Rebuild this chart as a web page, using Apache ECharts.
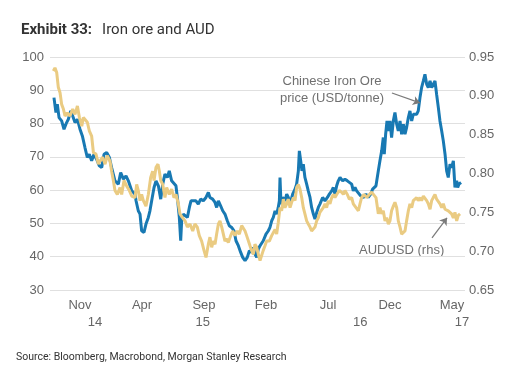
<!DOCTYPE html>
<html>
<head>
<meta charset="utf-8">
<script src="https://cdn.jsdelivr.net/npm/echarts@6/dist/echarts.min.js"></script>
<style>
  html, body { margin: 0; padding: 0; background: #fff; }
  .chart { width: 509px; height: 375px; }
</style>
</head>
<body>
<div class="chart"></div>
<script>
// x values are months counted from Jan 2014 (10 = Nov 2014)
var monthTicks = [10, 15, 20, 25, 30, 35, 40];
var monthLabels = ["Nov", "Apr", "Sep", "Feb", "Jul", "Dec", "May"];
var yearTicks = [11.2, 19.9, 32.6, 40.8];
var yearLabels = ["14", "15", "16", "17"];

// Chinese iron ore price, USD/tonne (lhs)
var ironOre = [
  [7.90,87.8],[8.06,83.3],[8.17,85.8],[8.31,81.8],[8.52,80.8],[8.71,78.3],[8.92,80.3],[9.06,81.3],[9.25,83.8],[9.41,82.3],
  [9.60,80.3],[9.79,81.3],[10.00,78.3],[10.19,76.3],[10.40,72.8],[10.59,69.8],[10.75,70.8],[10.94,68.8],[11.13,70.8],[11.34,69.3],
  [11.56,67.3],[11.75,66.8],[11.94,70.8],[12.15,71.3],[12.37,69.8],[12.55,66.8],[12.82,62.8],[13.09,61.8],[13.28,65.3],[13.50,63.3],
  [13.71,64.3],[13.90,62.8],[14.17,59.8],[14.44,58.8],[14.52,56.8],[14.70,53.8],[14.84,52.8],[14.97,47.8],[15.16,47.3],[15.32,49.8],
  [15.51,51.8],[15.64,53.8],[15.78,56.8],[15.97,60.8],[16.13,62.8],[16.32,61.3],[16.51,57.3],[16.67,61.8],[16.85,64.8],[17.04,63.8],
  [17.20,65.8],[17.39,62.8],[17.53,62.3],[17.74,61.3],[17.88,56.8],[18.01,51.8],[18.12,44.8],[18.20,50.8],[18.33,52.8],[18.47,52.3],
  [18.66,51.8],[18.82,54.8],[18.95,56.8],[19.14,56.8],[19.35,56.8],[19.54,55.8],[19.73,57.3],[19.95,56.8],[20.16,57.8],[20.35,59.3],
  [20.48,57.8],[20.70,57.3],[20.89,56.3],[21.02,54.8],[21.16,56.8],[21.34,55.3],[21.51,53.8],[21.69,52.8],[21.88,50.8],[22.04,49.3],
  [22.23,48.8],[22.42,47.8],[22.58,44.8],[22.77,43.3],[22.96,41.3],[23.12,39.8],[23.31,38.8],[23.49,39.8],[23.66,41.8],[23.84,41.3],
  [23.98,42.8],[24.11,40.8],[24.25,39.8],[24.38,42.3],[24.52,43.3],[24.65,42.8],[24.78,44.8],[25.00,46.8],[25.19,47.8],[25.32,48.8],
  [25.46,50.8],[25.59,51.8],[25.73,53.8],[25.86,52.8],[25.99,54.8],[26.08,56.8],[26.13,63.8],[26.21,55.8],[26.34,57.8],[26.53,56.8],
  [26.67,58.8],[26.80,57.8],[26.94,55.8],[27.15,58.8],[27.34,60.3],[27.47,61.8],[27.61,65.8],[27.69,71.8],[27.80,68.8],[27.90,65.8],
  [28.01,67.8],[28.14,63.8],[28.28,61.8],[28.41,59.8],[28.55,57.8],[28.68,54.8],[28.82,52.8],[28.95,51.3],[29.09,53.3],[29.22,54.8],
  [29.35,55.8],[29.57,57.8],[29.76,56.8],[29.95,57.8],[30.11,58.8],[30.30,59.8],[30.43,60.8],[30.56,58.8],[30.70,61.3],[30.83,62.8],
  [30.97,63.8],[31.18,62.8],[31.37,63.3],[31.56,62.8],[31.72,63.3],[31.91,61.8],[32.04,59.8],[32.18,60.8],[32.31,59.8],[32.45,59.3],
  [32.63,58.3],[32.85,57.8],[33.06,58.8],[33.25,57.8],[33.44,58.8],[33.60,60.3],[33.87,61.3],[34.06,65.8],[34.19,68.8],[34.33,71.8],
  [34.46,75.8],[34.54,70.8],[34.65,76.8],[34.76,80.8],[34.87,77.8],[35.00,80.8],[35.13,75.8],[35.27,80.8],[35.40,83.3],[35.54,79.8],
  [35.67,77.8],[35.81,80.8],[35.94,76.8],[36.08,79.8],[36.21,76.8],[36.34,78.8],[36.48,81.8],[36.61,83.8],[36.75,80.8],[36.88,82.8],
  [37.02,83.3],[37.15,82.8],[37.28,83.8],[37.42,87.8],[37.55,90.8],[37.69,92.8],[37.82,94.8],[37.96,91.8],[38.09,90.8],[38.23,92.8],
  [38.36,90.8],[38.49,91.8],[38.63,92.8],[38.76,88.8],[38.90,84.8],[39.03,80.8],[39.17,77.8],[39.30,74.8],[39.44,70.8],[39.57,65.8],
  [39.70,63.8],[39.84,67.8],[39.97,66.8],[40.11,68.8],[40.24,60.8],[40.38,62.8],[40.46,60.8],[40.56,61.8],[40.73,62.3]
];

// AUDUSD (rhs)
var audusd = [
  [7.85,0.932],[7.98,0.936],[8.12,0.930],[8.25,0.911],[8.39,0.904],[8.52,0.889],[8.66,0.883],[8.79,0.874],[8.98,0.878],[9.19,0.874],
  [9.41,0.883],[9.60,0.876],[9.79,0.887],[9.95,0.872],[10.14,0.861],[10.27,0.872],[10.40,0.874],[10.59,0.866],[10.75,0.855],[10.94,0.848],
  [11.08,0.827],[11.29,0.825],[11.48,0.812],[11.61,0.816],[11.83,0.821],[12.02,0.812],[12.20,0.823],[12.42,0.816],[12.55,0.803],[12.69,0.791],
  [12.82,0.778],[13.01,0.773],[13.23,0.782],[13.36,0.773],[13.55,0.791],[13.76,0.784],[13.98,0.778],[14.17,0.771],[14.30,0.769],[14.44,0.769],
  [14.57,0.786],[14.70,0.778],[14.84,0.765],[14.97,0.773],[15.11,0.765],[15.32,0.758],[15.51,0.773],[15.70,0.795],[15.86,0.803],[15.97,0.791],
  [16.13,0.808],[16.29,0.812],[16.40,0.803],[16.51,0.791],[16.67,0.786],[16.85,0.769],[16.99,0.782],[17.20,0.773],[17.39,0.780],[17.58,0.769],
  [17.74,0.773],[17.93,0.761],[18.06,0.748],[18.28,0.743],[18.47,0.739],[18.66,0.731],[18.87,0.735],[19.09,0.726],[19.27,0.735],[19.46,0.731],
  [19.62,0.720],[19.81,0.713],[20.00,0.701],[20.16,0.692],[20.35,0.709],[20.48,0.718],[20.62,0.705],[20.75,0.713],[20.89,0.709],[21.02,0.722],
  [21.16,0.735],[21.29,0.739],[21.43,0.731],[21.56,0.722],[21.69,0.713],[21.83,0.716],[21.96,0.711],[22.15,0.720],[22.31,0.726],[22.50,0.720],
  [22.69,0.726],[22.85,0.722],[23.04,0.733],[23.17,0.735],[23.31,0.726],[23.44,0.720],[23.58,0.722],[23.71,0.707],[23.84,0.701],[23.98,0.696],
  [24.11,0.709],[24.25,0.705],[24.38,0.696],[24.52,0.688],[24.65,0.690],[24.78,0.701],[24.92,0.707],[25.05,0.713],[25.27,0.713],[25.46,0.720],
  [25.59,0.718],[25.73,0.728],[25.86,0.722],[25.99,0.737],[26.13,0.756],[26.26,0.752],[26.40,0.767],[26.53,0.756],[26.67,0.761],[26.80,0.767],
  [26.94,0.756],[27.07,0.763],[27.21,0.769],[27.34,0.765],[27.47,0.782],[27.61,0.786],[27.74,0.780],[27.88,0.769],[28.01,0.756],[28.14,0.748],
  [28.28,0.739],[28.41,0.735],[28.55,0.731],[28.68,0.726],[28.82,0.724],[28.95,0.731],[29.09,0.739],[29.22,0.743],[29.35,0.750],[29.49,0.748],
  [29.62,0.756],[29.76,0.761],[29.89,0.756],[30.03,0.765],[30.16,0.761],[30.30,0.769],[30.43,0.773],[30.56,0.769],[30.70,0.773],[30.91,0.778],
  [31.10,0.776],[31.24,0.773],[31.37,0.778],[31.56,0.773],[31.72,0.767],[31.91,0.769],[32.04,0.761],[32.26,0.756],[32.45,0.752],[32.58,0.761],
  [32.71,0.769],[32.90,0.773],[33.12,0.769],[33.33,0.773],[33.52,0.776],[33.66,0.778],[33.87,0.769],[34.06,0.748],[34.19,0.756],[34.33,0.748],
  [34.46,0.752],[34.60,0.739],[34.73,0.743],[34.87,0.735],[35.00,0.739],[35.13,0.752],[35.27,0.758],[35.40,0.763],[35.54,0.756],[35.67,0.739],
  [35.81,0.731],[35.94,0.722],[36.08,0.720],[36.21,0.726],[36.34,0.739],[36.48,0.752],[36.61,0.761],[36.75,0.756],[36.88,0.765],[37.02,0.767],
  [37.15,0.769],[37.28,0.765],[37.42,0.769],[37.55,0.765],[37.69,0.771],[37.82,0.773],[37.96,0.765],[38.09,0.761],[38.23,0.754],[38.36,0.765],
  [38.49,0.769],[38.63,0.773],[38.76,0.767],[38.90,0.765],[39.03,0.761],[39.17,0.756],[39.30,0.761],[39.44,0.754],[39.57,0.756],[39.70,0.752],
  [39.84,0.752],[39.97,0.748],[40.11,0.743],[40.24,0.750],[40.38,0.739],[40.51,0.746],[40.65,0.748]
];

(function() {
  var myChart = echarts.init(document.querySelector(".chart"));
  var labelColor = "#666";
  var noteColor = "#707070";

  function pick(ticks, labels, v) {
    for (var i = 0; i < ticks.length; i++) {
      if (Math.abs(ticks[i] - v) < 0.01) return labels[i];
    }
    return "";
  }

  var option = {
    animation: false,
    title: {
      left: 16,
      top: 16,
      text: "{b|Exhibit 33:}  {n|Iron ore and AUD}",
      textStyle: {
        fontWeight: "normal",
        rich: {
          b: { fontFamily: "Roboto", fontSize: 15, fontWeight: "bold", color: "#333" },
          n: { fontFamily: "Roboto", fontSize: 15, fontWeight: "normal", color: "#333" }
        }
      }
    },
    grid: {
      left: 50,
      right: 44,
      top: 57,
      bottom: 85
    },
    xAxis: [
      {
        type: "value",
        min: 7.58,
        max: 41.05,
        axisLine: { show: false },
        axisTick: { show: false },
        splitLine: { show: false },
        axisLabel: {
          customValues: monthTicks,
          margin: 9,
          color: labelColor,
          fontFamily: "Liberation Sans",
          fontSize: 13,
          formatter: function(v) {
            return pick(monthTicks, monthLabels, v);
          }
        }
      },
      {
        type: "value",
        position: "bottom",
        offset: 17,
        min: 7.58,
        max: 41.05,
        axisLine: { show: false },
        axisTick: { show: false },
        splitLine: { show: false },
        axisLabel: {
          customValues: yearTicks,
          margin: 9,
          color: labelColor,
          fontFamily: "Liberation Sans",
          fontSize: 13,
          formatter: function(v) {
            return pick(yearTicks, yearLabels, v);
          }
        }
      }
    ],
    yAxis: [
      {
        type: "value",
        min: 30,
        max: 100,
        interval: 10,
        axisLine: { show: false },
        axisTick: { show: false },
        axisLabel: {
          margin: 6,
          color: labelColor,
          fontFamily: "Liberation Sans",
          fontSize: 13
        },
        splitLine: {
          lineStyle: { color: "#e0e0e0", width: 1 }
        }
      },
      {
        type: "value",
        min: 0.65,
        max: 0.95,
        interval: 0.05,
        axisLine: { show: false },
        axisTick: { show: false },
        splitLine: { show: false },
        axisLabel: {
          margin: 4,
          color: labelColor,
          fontFamily: "Liberation Sans",
          fontSize: 13,
          formatter: function(v) {
            return v.toFixed(2);
          }
        }
      }
    ],
    series: [
      {
        name: "Chinese Iron Ore price (USD/tonne)",
        type: "line",
        xAxisIndex: 0,
        yAxisIndex: 0,
        data: ironOre,
        showSymbol: false,
        lineStyle: { color: "#1879b3", width: 3 },
        markLine: {
          silent: true,
          symbol: ["none", "arrow"],
          symbolSize: 7,
          label: { show: false },
          lineStyle: { color: "#7a7a7a", width: 1.2, type: "solid" },
          data: [[{ coord: [35.16, 89.2] }, { coord: [37.42, 86.2] }]]
        }
      },
      {
        name: "AUDUSD (rhs)",
        type: "line",
        xAxisIndex: 0,
        yAxisIndex: 1,
        data: audusd,
        showSymbol: false,
        lineStyle: { color: "#eacb82", width: 3 },
        markLine: {
          silent: true,
          symbol: ["none", "arrow"],
          symbolSize: 7,
          label: { show: false },
          lineStyle: { color: "#7a7a7a", width: 1.2, type: "solid" },
          data: [[{ coord: [38.39, 0.717] }, { coord: [39.6, 0.743] }]]
        }
      }
    ],
    graphic: [
      {
        type: "text",
        x: 332,
        y: 90,
        style: {
          text: "Chinese Iron Ore\nprice (USD/tonne)",
          align: "center",
          verticalAlign: "middle",
          lineHeight: 17,
          font: "13px 'Liberation Sans'",
          fill: noteColor
        }
      },
      {
        type: "text",
        x: 359,
        y: 250,
        style: {
          text: "AUDUSD (rhs)",
          align: "left",
          verticalAlign: "middle",
          font: "13px 'Liberation Sans'",
          fill: noteColor
        }
      },
      {
        type: "text",
        x: 16,
        y: 357,
        style: {
          text: "Source: Bloomberg, Macrobond, Morgan Stanley Research",
          align: "left",
          verticalAlign: "middle",
          font: "10.5px Roboto",
          fill: "#333"
        }
      }
    ]
  };
  myChart.setOption(option);
  window.addEventListener("resize", function() {
    myChart.resize();
  });
})();
</script>
</body>
</html>
